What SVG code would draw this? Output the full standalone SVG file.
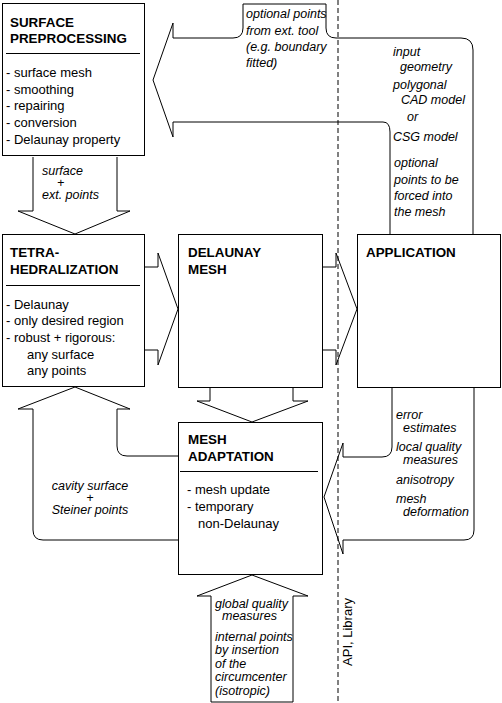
<svg xmlns="http://www.w3.org/2000/svg" width="502" height="703" viewBox="0 0 502 703">
<style>
.box{fill:#fff;stroke:#000;stroke-width:1}
.arr{fill:none;stroke:#000;stroke-width:1;stroke-linejoin:miter}
.sep{stroke:#000;stroke-width:1}
.t{font-family:"Liberation Sans",Arial,sans-serif;font-size:13.4px;font-weight:bold;fill:#000}
.b{font-family:"Liberation Sans",Arial,sans-serif;font-size:13px;fill:#000}
.i{font-family:"Liberation Sans",Arial,sans-serif;font-size:12.5px;font-style:italic;fill:#000}
.dash{stroke:#000;stroke-width:1;stroke-dasharray:5,3;fill:none}
</style>
<rect width="502" height="703" fill="#fff"/>
<g id="connectors">
<path class="arr" d="M173,23 L153,80 L173,137 L173,122 L383,122 Q390,122 390,132 L390,234 M473,234 L473,50 Q473,38 461,38 L336,38 Q326,38 326,28 L326,4 L243,4 L243,28 Q243,38 233,38 L173,38 L173,23"/>
<path class="arr" d="M33,157 L33,211 L18,211 L75,234 L130,211 L117,211 L117,157"/>
<path class="arr" d="M145,267 L158,267 L158,253 L178,309 L158,365 L158,350 L145,350"/>
<path class="arr" d="M323,267 L336,267 L336,253 L357,309 L336,365 L336,350 L323,350"/>
<path class="arr" d="M210,388 L210,401 L197,401 L252,422 L308,401 L293,401 L293,388"/>
<path class="arr" d="M392,388 L392,447 Q392,457 382,457 L343,457 L343,443 L324,497 L343,554 L343,540 L464,540 Q474,540 474,530 L474,388"/>
<path class="arr" d="M178,456 L127,456 Q117,456 117,446 L117,409 L130,409 L75,387 L18,409 L33,409 L33,530 Q33,540 43,540 L178,540"/>
<path class="arr" d="M211,702 L211,596 L197,596 L252,575 L308,596 L293,596 L293,702 Z"/>
<line class="dash" x1="338" y1="0" x2="338" y2="703"/>
<text class="i" x="246" y="18">optional points</text>
<text class="i" x="246" y="35">from ext. tool</text>
<text class="i" x="246" y="51">(e.g. boundary</text>
<text class="i" x="246" y="67">fitted)</text>
<text class="i" x="393" y="56">input</text>
<text class="i" x="400" y="71">geometry</text>
<text class="i" x="393" y="89">polygonal</text>
<text class="i" x="401" y="104">CAD model</text>
<text class="i" x="407" y="121">or</text>
<text class="i" x="393" y="141">CSG model</text>
<text class="i" x="394" y="167">optional</text>
<text class="i" x="394" y="184">points to be</text>
<text class="i" x="394" y="200">forced into</text>
<text class="i" x="394" y="216">the mesh</text>
<text class="i" x="42" y="175">surface</text>
<text class="i" x="57" y="187">+</text>
<text class="i" x="42" y="199">ext. points</text>
<text class="i" x="396" y="419">error</text>
<text class="i" x="403" y="432">estimates</text>
<text class="i" x="396" y="451">local quality</text>
<text class="i" x="403" y="464">measures</text>
<text class="i" x="396" y="484">anisotropy</text>
<text class="i" x="396" y="503">mesh</text>
<text class="i" x="403" y="516">deformation</text>
<text class="i" x="90" y="490" text-anchor="middle">cavity surface</text>
<text class="i" x="90" y="502" text-anchor="middle">+</text>
<text class="i" x="90" y="514" text-anchor="middle">Steiner points</text>
<text class="i" x="215" y="608">global quality</text>
<text class="i" x="222" y="620">measures</text>
<text class="i" x="215" y="641">internal points</text>
<text class="i" x="215" y="654">by insertion</text>
<text class="i" x="215" y="668">of the</text>
<text class="i" x="215" y="681">circumcenter</text>
<text class="i" x="215" y="695">(isotropic)</text>
<text class="b" transform="translate(352,632) rotate(-90)" text-anchor="middle">API, Library</text>
</g>
<g id="surface">
<rect class="box" x="2.5" y="3.5" width="142" height="152"/>
<text class="t" x="10" y="27">SURFACE</text>
<text class="t" x="10" y="43">PREPROCESSING</text>
<line class="sep" x1="6" y1="53.5" x2="140" y2="53.5"/>
<text class="b" x="6" y="77">- surface mesh</text>
<text class="b" x="6" y="94">- smoothing</text>
<text class="b" x="6" y="110">- repairing</text>
<text class="b" x="6" y="127">- conversion</text>
<text class="b" x="6" y="144">- Delaunay property</text>
</g>
<g id="tetra">
<rect class="box" x="2.5" y="234.5" width="142" height="152"/>
<text class="t" x="10" y="257">TETRA-</text>
<text class="t" x="10" y="274">HEDRALIZATION</text>
<line class="sep" x1="6" y1="285.5" x2="140" y2="285.5"/>
<text class="b" x="6" y="309">- Delaunay</text>
<text class="b" x="6" y="325">- only desired region</text>
<text class="b" x="6" y="342">- robust + rigorous:</text>
<text class="b" x="27" y="359">any surface</text>
<text class="b" x="27" y="375">any points</text>
</g>
<g id="delaunay">
<rect class="box" x="178.5" y="234.5" width="144" height="153"/>
<text class="t" x="188" y="257">DELAUNAY</text>
<text class="t" x="188" y="274">MESH</text>
</g>
<g id="application">
<rect class="box" x="357.5" y="234.5" width="143" height="153"/>
<text class="t" x="366" y="257">APPLICATION</text>
</g>
<g id="adaptation">
<rect class="box" x="178.5" y="422.5" width="144" height="152"/>
<text class="t" x="188" y="444">MESH</text>
<text class="t" x="188" y="461">ADAPTATION</text>
<line class="sep" x1="180" y1="471.5" x2="318" y2="471.5"/>
<text class="b" x="187" y="494">- mesh update</text>
<text class="b" x="187" y="511">- temporary</text>
<text class="b" x="198" y="528">non-Delaunay</text>
</g>
</svg>
